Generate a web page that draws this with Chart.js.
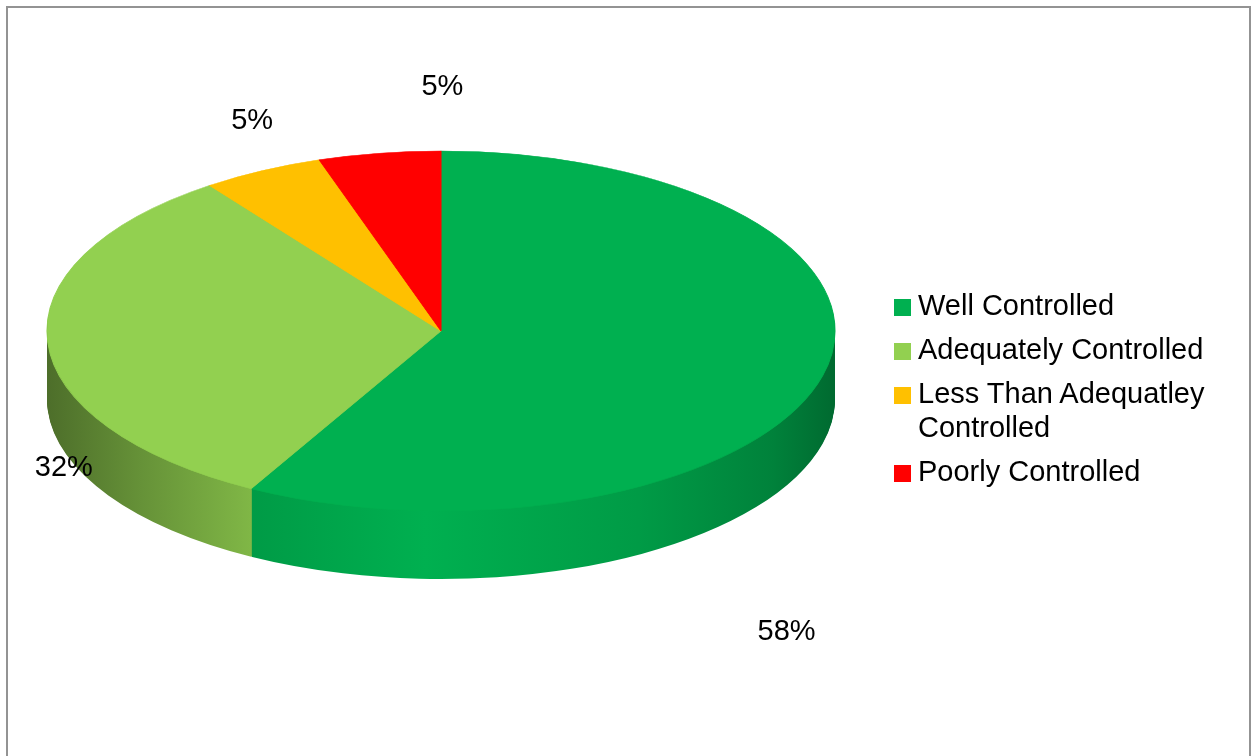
<!DOCTYPE html>
<html>
<head>
<meta charset="utf-8">
<script src="https://cdn.jsdelivr.net/npm/chart.js@4.4.1/dist/chart.umd.min.js"></script>
<style>
    html, body { margin: 0; padding: 0; background: #fff; overflow: hidden; }
    #wrap { position: relative; width: 1252px; height: 756px; }
    #frame { position: absolute; left: 6px; top: 6px; width: 1241px; height: 800px; border: 2px solid #939393; }
    #pie { position: absolute; left: 0; top: 0; }
    #legend {
        position: absolute; left: 894px; top: 288px;
        font-family: "Liberation Sans", Arial, sans-serif; font-size: 29px; line-height: 34px; color: #000;
    }
    .item { position: relative; padding-left: 24px; width: 315px; margin-bottom: 10px; }
    .box { position: absolute; left: 0; top: 11px; width: 17px; height: 17px; }
</style>
</head>
<body>
<div id="wrap">
    <div id="frame"></div>
    <canvas id="pie" width="1252" height="756"></canvas>
    <div id="legend"></div>
</div>
<script>
const categories = [
    "Well Controlled",
    "Adequately Controlled",
    "Less Than Adequatley Controlled",
    "Poorly Controlled",
];
const shares = [58, 32, 5, 5];
const sliceColors = ["#00B050", "#92D050", "#FFC000", "#FF0000"];

// projection of the flat pie onto a tilted disc (screen px)
const PIE = { cx: 441, cy: 331, rx: 394, ry: 180, depth: 68 };
// brightness of the side wall from left edge to right edge
const shadeStops = [[0, 0.53], [0.12, 0.7], [0.26, 0.88], [0.48, 1.0], [0.75, 0.88], [0.92, 0.74], [1, 0.6]];
// where each percentage sits relative to the rim point of its slice
const labelNudge = [[-36, 256], [16, 126], [-10, -50], [63, -66]];

function shade(hex, f) {
    const n = parseInt(hex.slice(1), 16);
    const c = [(n >> 16) & 255, (n >> 8) & 255, n & 255].map((v) => Math.round(Math.min(255, v * f)));
    return `rgb(${c[0]}, ${c[1]}, ${c[2]})`;
}

const pie3d = {
    id: "pie3d",
    beforeDatasetsDraw(chart) {
        const ctx = chart.ctx;
        const dpr = chart.currentDevicePixelRatio || 1;
        const arcs = chart.getDatasetMeta(0).data;
        const ox = arcs[0].x, oy = arcs[0].y;
        const sx = PIE.rx / arcs[0].outerRadius;
        const sy = PIE.ry / arcs[0].outerRadius;
        const toPre = (X) => ox + (X - PIE.cx) / sx;

        const sides = sliceColors.map((c) => {
            const g = ctx.createLinearGradient(toPre(PIE.cx - PIE.rx), 0, toPre(PIE.cx + PIE.rx), 0);
            shadeStops.forEach(([t, f]) => g.addColorStop(t, shade(c, f)));
            return g;
        });

        ctx.save();
        // side wall: stack copies of the slices downwards, then the top face
        for (let d = PIE.depth; d >= 0; d--) {
            ctx.setTransform(dpr * sx, 0, 0, dpr * sy, dpr * (PIE.cx - sx * ox), dpr * (PIE.cy + d - sy * oy));
            arcs.forEach((arc, i) => {
                const saved = arc.options;
                const fill = d === 0 ? sliceColors[i] : sides[i];
                arc.options = Object.assign({}, saved, {
                    backgroundColor: fill,
                    borderColor: fill,
                    borderWidth: d === 0 ? 1 : 0,
                });
                arc.draw(ctx);
                arc.options = saved;
            });
        }
        ctx.restore();

        // percentage labels
        ctx.save();
        ctx.font = '29px "Liberation Sans", Arial, sans-serif';
        ctx.fillStyle = "#000";
        ctx.textAlign = "center";
        ctx.textBaseline = "middle";
        arcs.forEach((arc, i) => {
            const mid = (arc.startAngle + arc.endAngle) / 2;
            const x = PIE.cx + PIE.rx * Math.cos(mid) + labelNudge[i][0];
            const y = PIE.cy + PIE.ry * Math.sin(mid) + labelNudge[i][1];
            ctx.fillText(shares[i] + "%", x, y);
        });
        ctx.restore();

        return false;
    },
};

new Chart(document.getElementById("pie"), {
    type: "pie",
    data: {
        labels: categories,
        datasets: [
            {
                data: shares,
                backgroundColor: sliceColors,
                borderWidth: 0,
            },
        ],
    },
    options: {
        responsive: false,
        animation: false,
        events: [],
        plugins: {
            legend: { display: false },
            tooltip: { enabled: false },
        },
    },
    plugins: [pie3d],
});

// legend
const legend = document.getElementById("legend");
categories.forEach((name, i) => {
    const item = document.createElement("div");
    item.className = "item";
    const box = document.createElement("span");
    box.className = "box";
    box.style.background = sliceColors[i];
    item.appendChild(box);
    item.appendChild(document.createTextNode(name));
    legend.appendChild(item);
});
</script>
</body>
</html>
